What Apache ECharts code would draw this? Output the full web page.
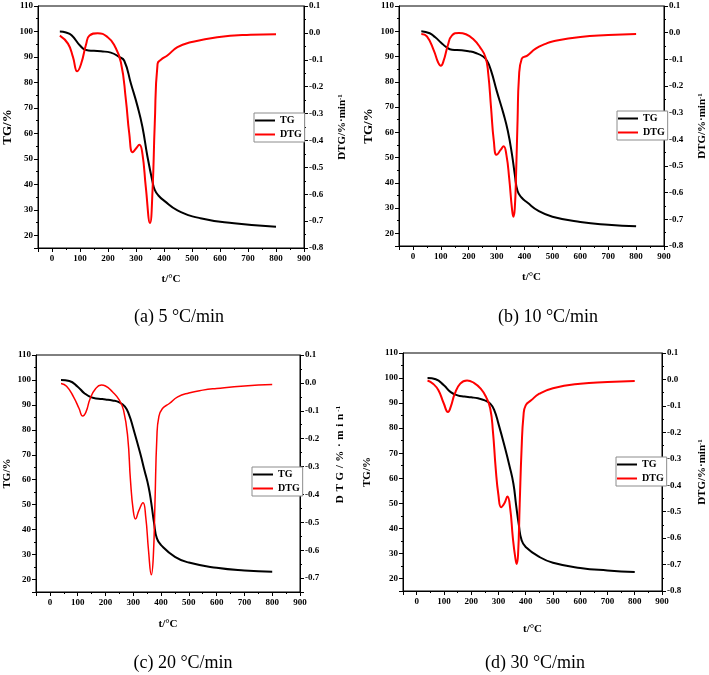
<!DOCTYPE html>
<html><head><meta charset="utf-8">
<script src="https://cdn.jsdelivr.net/npm/echarts@6/dist/echarts.min.js"></script>
<style>html,body{margin:0;padding:0;background:#fff}#c{width:709px;height:675px}</style>
</head><body><div id="c"></div>
<script>
// ---------- data ----------
const captions = ['(a) 5 °C/min', '(b) 10 °C/min', '(c) 20 °C/min', '(d) 30 °C/min'];
const xMin = -50, xMax = 900;
const tgMin = 15, tgMax = 110;
const dtgMins = [-0.8, -0.8, -0.75, -0.8];
const dtgMax = 0.1;

// (a) 5 °C/min
const tgTempA = [28, 50, 70, 100, 122, 150, 175, 210, 240, 258, 282, 306, 323, 341, 359, 367, 380, 400, 448, 530, 650, 800];
const tgA     = [100, 99.6, 98.5, 94.5, 92.7, 92.4, 92.2, 91.7, 90.0, 88.5, 79.5, 70.4, 62.5, 50.8, 41.0, 37.8, 35.6, 33.6, 29.8, 26.7, 24.7, 23.3];
const dtgTempA = [28, 57, 75, 90, 104, 122, 134, 163, 199, 223, 246, 264, 276, 288, 300, 312, 323, 335, 350, 359, 367, 377, 389, 412, 448, 495, 590, 709, 800];
const dtgA     = [-0.01, -0.04, -0.09, -0.143, -0.115, -0.041, -0.01, -0.001, -0.016, -0.047, -0.109, -0.25, -0.375, -0.444, -0.43, -0.416, -0.45, -0.574, -0.707, -0.586, -0.338, -0.115, -0.1, -0.084, -0.053, -0.035, -0.016, -0.007, -0.005];

// (b) 10 °C/min
const tgTempB = [30, 60, 80, 100, 120, 140, 175, 200, 225, 250, 265, 280, 300, 325, 340, 355, 365, 375, 390, 410, 450, 500, 600, 700, 800];
const tgB     = [100, 99.2, 97.6, 95.6, 93.7, 92.7, 92.5, 92.1, 91.4, 90.1, 88.4, 84.4, 76.5, 67.2, 60.6, 51.3, 43.4, 36.8, 34.1, 32.2, 28.9, 26.6, 24.5, 23.4, 22.8];
const dtgTempB = [30, 50, 75, 90, 100, 110, 125, 140, 165, 190, 215, 240, 260, 270, 280, 290, 300, 315, 325, 335, 345, 355, 360, 365, 370, 375, 380, 390, 410, 440, 475, 500, 600, 700, 800];
const dtgB     = [-0.005, -0.014, -0.067, -0.111, -0.124, -0.105, -0.048, -0.01, -0.001, -0.006, -0.023, -0.054, -0.092, -0.155, -0.281, -0.407, -0.458, -0.439, -0.426, -0.458, -0.546, -0.66, -0.69, -0.66, -0.52, -0.33, -0.168, -0.098, -0.086, -0.06, -0.042, -0.033, -0.016, -0.009, -0.005];

// (c) 20 °C/min
const tgTempC = [40, 70, 100, 125, 150, 175, 200, 225, 250, 270, 285, 300, 325, 340, 355, 365, 375, 385, 400, 450, 500, 600, 700, 800];
const tgC     = [100, 99.6, 97.3, 94.6, 93.0, 92.5, 92.2, 91.8, 91.0, 89.3, 86.0, 80.6, 70.6, 63.9, 57.2, 50.5, 42.5, 36.5, 33.8, 29.1, 26.8, 24.7, 23.6, 23.1];
const dtgTempC = [40, 60, 85, 105, 118, 130, 145, 165, 185, 200, 225, 250, 265, 280, 290, 300, 308, 320, 335, 345, 355, 365, 372, 378, 385, 392, 405, 430, 460, 500, 550, 600, 700, 800];
const dtgC     = [-0.002, -0.012, -0.05, -0.092, -0.119, -0.104, -0.056, -0.02, -0.008, -0.011, -0.032, -0.062, -0.098, -0.194, -0.35, -0.458, -0.488, -0.458, -0.43, -0.482, -0.602, -0.688, -0.626, -0.434, -0.194, -0.122, -0.092, -0.074, -0.05, -0.036, -0.026, -0.02, -0.011, -0.006];

// (d) 30 °C/min
const tgTempD = [40, 70, 100, 125, 150, 175, 200, 225, 250, 270, 285, 300, 325, 340, 355, 365, 375, 385, 400, 450, 500, 600, 700, 800];
const tgD     = [100, 99.5, 97.1, 94.4, 93.1, 92.6, 92.3, 91.9, 91.1, 89.8, 87.1, 81.8, 71.8, 65.2, 57.8, 49.2, 41.3, 35.3, 32.6, 28.6, 26.3, 24.2, 23.2, 22.6];
const dtgTempD = [40, 60, 80, 100, 115, 125, 140, 160, 185, 210, 235, 255, 270, 280, 290, 300, 310, 322, 333, 343, 353, 362, 367, 372, 378, 385, 392, 400, 420, 450, 500, 600, 700, 800];
const dtgD     = [-0.004, -0.016, -0.041, -0.092, -0.123, -0.104, -0.054, -0.016, -0.004, -0.013, -0.035, -0.067, -0.11, -0.198, -0.336, -0.437, -0.483, -0.468, -0.443, -0.487, -0.6, -0.675, -0.698, -0.663, -0.474, -0.261, -0.136, -0.098, -0.079, -0.054, -0.033, -0.016, -0.01, -0.006];

const tgSets  = [[tgTempA, tgA], [tgTempB, tgB], [tgTempC, tgC], [tgTempD, tgD]];
const dtgSets = [[dtgTempA, dtgA], [dtgTempB, dtgB], [dtgTempC, dtgC], [dtgTempD, dtgD]];

// ---------- layout / style ----------
const SERIF = '"Liberation Serif", "Times New Roman", serif';
const SP = '\u2004';
const spacedName = '{a|' + ['D', 'T', 'G', '/', '%', '·', 'm', 'i', 'n'].join(SP) + '}{b|' + SP + '-1}';
const layout = [
  { grid: { left: 37, top: 6, width: 267, height: 242 }, legend: { left: 254, top: 113 }, cap: [179, 317], tgSize: 13, tgGap: 24, dtgGap: 33, xGap: 26, dtgName: '{a|DTG/%·min}{b|-1}', dtgPad: 0, dtgW: 2 },
  { grid: { left: 399, top: 6, width: 266, height: 240 }, legend: { left: 617, top: 111 }, cap: [548, 317], tgSize: 13, tgGap: 24, dtgGap: 33, xGap: 26, dtgName: '{a|DTG/%·min}{b|-1}', dtgPad: 0, dtgW: 2 },
  { grid: { left: 36, top: 355, width: 264, height: 237 }, legend: { left: 252, top: 467 }, cap: [183, 663], tgSize: 11, tgGap: 23, dtgGap: 35, xGap: 27, dtgName: spacedName, dtgPad: 38, dtgW: 1.5 },
  { grid: { left: 403, top: 353, width: 260, height: 238 }, legend: { left: 616, top: 457 }, cap: [535, 663], tgSize: 11, tgGap: 30, dtgGap: 35, xGap: 33, dtgName: '{a|DTG/%·min}{b|-1}', dtgPad: 0, dtgW: 2 }
];

const black = '#000';
const tickLabel = { color: black, fontFamily: SERIF, fontWeight: 'bold', fontSize: 9 };
const axisLine = { show: true, onZero: false, lineStyle: { color: black, width: 1 } };
const axisTick = { show: true, inside: false, length: 4, lineStyle: { color: black, width: 1 } };
const minorTick = { show: true, splitNumber: 2, length: 2, lineStyle: { color: black, width: 1 } };

const zip = (a, b) => a.map((v, i) => [v, b[i]]);

const grids = [], xAxes = [], yAxes = [], series = [], legends = [], graphics = [];
layout.forEach((L, i) => {
  grids.push(Object.assign({ show: true, borderColor: black, borderWidth: 1, backgroundColor: 'transparent', containLabel: false }, L.grid));
  xAxes.push({
    type: 'value', gridIndex: i, min: xMin, max: xMax, minInterval: 100, maxInterval: 100,
    axisLine, axisTick, minorTick, splitLine: { show: false }, minorSplitLine: { show: false },
    axisLabel: Object.assign({ showMinLabel: false, margin: 6 }, tickLabel),
    name: 't/°C', nameLocation: 'middle', nameGap: L.xGap,
    nameTextStyle: { color: black, fontFamily: SERIF, fontWeight: 'bold', fontSize: 11 }
  });
  yAxes.push({
    type: 'value', gridIndex: i, position: 'left', min: tgMin, max: tgMax, minInterval: 10, maxInterval: 10,
    axisLine, axisTick, minorTick, splitLine: { show: false },
    axisLabel: Object.assign({ showMinLabel: false, margin: 5 }, tickLabel),
    name: 'TG/%', nameLocation: 'middle', nameRotate: 90, nameGap: L.tgGap,
    nameTextStyle: { color: black, fontFamily: SERIF, fontWeight: 'bold', fontSize: L.tgSize }
  });
  yAxes.push({
    type: 'value', gridIndex: i, position: 'right', min: dtgMins[i], max: dtgMax, minInterval: 0.1, maxInterval: 0.1,
    axisLine, axisTick, minorTick, splitLine: { show: false },
    axisLabel: Object.assign({ margin: 5, showMinLabel: dtgMins[i] === -0.8, formatter: v => (Math.abs(v) < 1e-9 ? 0 : v).toFixed(1) }, tickLabel),
    name: L.dtgName, nameLocation: 'middle', nameRotate: 90, nameGap: L.dtgGap,
    nameTextStyle: {
      color: black,
      padding: [0, 0, 0, L.dtgPad],
      rich: {
        a: { color: black, fontFamily: SERIF, fontWeight: 'bold', fontSize: 11 },
        b: { color: black, fontFamily: SERIF, fontWeight: 'bold', fontSize: 7, verticalAlign: 'top' }
      }
    }
  });
  series.push({
    type: 'line', name: 'TG', xAxisIndex: i, yAxisIndex: 2 * i, data: zip(tgSets[i][0], tgSets[i][1]),
    smooth: 0.5, showSymbol: false, symbol: 'none', silent: true,
    lineStyle: { color: black, width: 2 }, itemStyle: { color: black }
  });
  series.push({
    type: 'line', name: 'DTG', xAxisIndex: i, yAxisIndex: 2 * i + 1, data: zip(dtgSets[i][0], dtgSets[i][1]),
    smooth: 0.5, showSymbol: false, symbol: 'none', silent: true,
    lineStyle: { color: '#ff0000', width: L.dtgW }, itemStyle: { color: '#ff0000' }
  });
  legends.push({
    left: L.legend.left, top: L.legend.top, orient: 'vertical', data: ['TG', 'DTG'],
    icon: 'rect', itemWidth: 20, itemHeight: 2, itemGap: 3, padding: [2, 3, 2, 1],
    borderColor: '#8c8c8c', borderWidth: 1, backgroundColor: '#fff', selectedMode: false,
    textStyle: { color: black, fontFamily: SERIF, fontWeight: 'bold', fontSize: 10, lineHeight: 11 }
  });
  graphics.push({
    type: 'text', x: L.cap[0], y: L.cap[1], silent: true,
    style: { text: captions[i], fill: black, font: '18px ' + SERIF, align: 'center', verticalAlign: 'middle', textAlign: 'center', textVerticalAlign: 'middle' }
  });
});

const chart = echarts.init(document.getElementById('c'), null, { renderer: 'canvas' });
chart.setOption({
  animation: false,
  backgroundColor: '#fff',
  grid: grids, xAxis: xAxes, yAxis: yAxes, series, legend: legends, graphic: graphics
});
</script></body></html>
